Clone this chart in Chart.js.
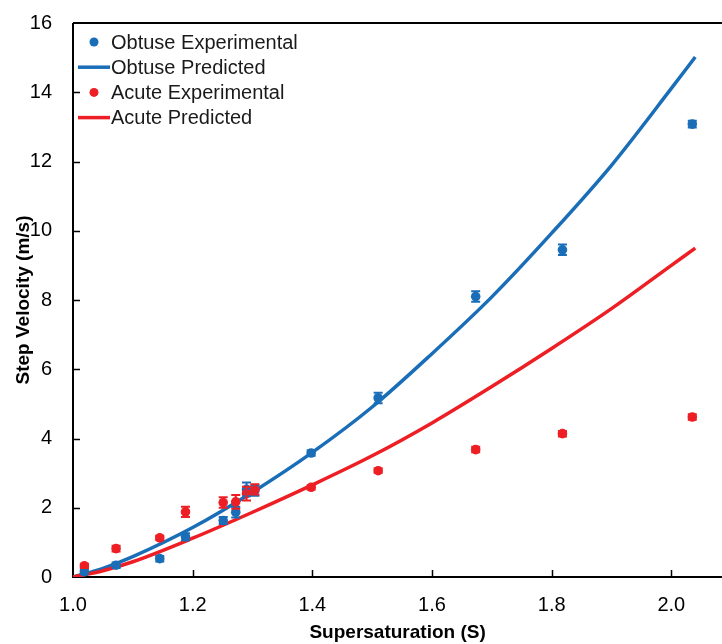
<!DOCTYPE html>
<html>
<head>
<meta charset="utf-8">
<script src="https://cdn.jsdelivr.net/npm/chart.js@4.4.1/dist/chart.umd.min.js"></script>
<style>
  html, body { margin: 0; padding: 0; background: #fff; overflow: hidden; }
  #stepChart { display: block; }
</style>
</head>
<body>
<canvas id="stepChart" width="727" height="644"></canvas>
<script>

// measured step velocities with their error bars
const obtuseS   = [1.019, 1.072, 1.145, 1.188, 1.251, 1.272, 1.290, 1.304, 1.398, 1.510, 1.673, 1.818, 2.035];
const obtuseV   = [0.15, 0.34, 0.53, 1.16, 1.63, 1.87, 2.53, 2.50, 3.58, 5.17, 8.10, 9.45, 13.08];
const obtuseErr = [0.06, 0.08, 0.08, 0.10, 0.10, 0.15, 0.20, 0.15, 0.08, 0.15, 0.15, 0.15, 0.10];

const acuteS   = [1.019, 1.072, 1.145, 1.188, 1.251, 1.272, 1.290, 1.304, 1.398, 1.510, 1.673, 1.818, 2.035];
const acuteV   = [0.32, 0.82, 1.13, 1.88, 2.15, 2.17, 2.41, 2.53, 2.59, 3.07, 3.68, 4.14, 4.62];
const acuteErr = [0.06, 0.08, 0.06, 0.15, 0.15, 0.20, 0.20, 0.15, 0.06, 0.06, 0.08, 0.08, 0.08];

// model curves
const modelS      = [1.00, 1.05, 1.10, 1.20, 1.30, 1.40, 1.50, 1.60, 1.70, 1.80, 1.90, 2.00, 2.04];
const obtuseModel = [0, 0.25, 0.59, 1.43, 2.45, 3.60, 4.91, 6.45, 8.09, 9.93, 11.89, 14.11, 15.02];
const acuteModel  = [0, 0.18, 0.44, 1.12, 1.87, 2.66, 3.50, 4.45, 5.50, 6.60, 7.75, 9.00, 9.50];

const xTicks = [1.0, 1.2, 1.4, 1.6, 1.8, 2.0];
const yTicks = [0, 2, 4, 6, 8, 10, 12, 14, 16];

const AZUL = "#1a6eb7";
const ROJO = "#ed1f24";
const FUENTE = "'Liberation Sans', Arial, sans-serif";

function puntos(xs, ys) {
    return xs.map((x, i) => ({ x: x, y: ys[i] }));
}

// ejes, borde superior y marcas hacia adentro
const marco = {
    id: "marco",
    beforeDatasetsDraw(chart) {
        const { ctx, chartArea: a, scales } = chart;
        ctx.save();
        ctx.strokeStyle = "#000";
        ctx.lineWidth = 2;
        ctx.beginPath();
        ctx.moveTo(a.left, a.top);
        ctx.lineTo(a.right + 5, a.top);
        ctx.moveTo(a.left, a.top);
        ctx.lineTo(a.left, a.bottom);
        ctx.lineTo(a.right + 5, a.bottom);
        ctx.stroke();

        ctx.lineWidth = 1.5;
        ctx.beginPath();
        xTicks.forEach(v => {
            const px = Math.round(scales.x.getPixelForValue(v)) + 0.5;
            if (v === xTicks[0]) return;
            ctx.moveTo(px, a.bottom);
            ctx.lineTo(px, a.bottom - 7);
        });
        yTicks.forEach(v => {
            const py = Math.round(scales.y.getPixelForValue(v)) + 0.5;
            if (v === yTicks[0] || v === yTicks[yTicks.length - 1]) return;
            ctx.moveTo(a.left, py);
            ctx.lineTo(a.left + 7, py);
        });
        ctx.stroke();
        ctx.restore();
    }
};

// barras de error verticales con tope
const barrasError = {
    id: "barrasError",
    afterDatasetsDraw(chart) {
        const { ctx, scales } = chart;
        chart.data.datasets.forEach((ds, i) => {
            if (!ds.errores || !chart.isDatasetVisible(i)) return;
            ctx.save();
            ctx.strokeStyle = ds.borderColor;
            ctx.lineWidth = 2;
            ds.data.forEach((p, j) => {
                const e = ds.errores[j];
                const x = scales.x.getPixelForValue(p.x);
                const y1 = scales.y.getPixelForValue(p.y - e);
                const y2 = scales.y.getPixelForValue(p.y + e);
                ctx.beginPath();
                ctx.moveTo(x, y1);
                ctx.lineTo(x, y2);
                ctx.moveTo(x - 4.5, y1);
                ctx.lineTo(x + 4.5, y1);
                ctx.moveTo(x - 4.5, y2);
                ctx.lineTo(x + 4.5, y2);
                ctx.stroke();
            });
            ctx.restore();
        });
    }
};

// leyenda dentro del area del grafico
const leyenda = {
    id: "leyenda",
    afterDraw(chart) {
        const { ctx, chartArea: a } = chart;
        ctx.save();
        ctx.font = "20px " + FUENTE;
        ctx.textBaseline = "middle";
        ctx.textAlign = "left";
        chart.data.datasets.forEach((ds, i) => {
            const y = a.top + 19 + i * 25.2;
            if (ds.showLine) {
                ctx.strokeStyle = ds.borderColor;
                ctx.lineWidth = 3.5;
                ctx.beginPath();
                ctx.moveTo(a.left + 5, y);
                ctx.lineTo(a.left + 37, y);
                ctx.stroke();
            } else {
                ctx.fillStyle = ds.backgroundColor;
                ctx.beginPath();
                ctx.arc(a.left + 21, y, 4.5, 0, Math.PI * 2);
                ctx.fill();
            }
            ctx.fillStyle = "#1a1a1a";
            ctx.fillText(ds.label, a.left + 38, y + 1);
        });
        ctx.restore();
    }
};

new Chart(document.getElementById("stepChart"), {
    type: "scatter",
    data: {
        datasets: [
            {
                label: "Obtuse Experimental",
                data: puntos(obtuseS, obtuseV),
                errores: obtuseErr,
                backgroundColor: AZUL,
                borderColor: AZUL,
                pointRadius: 4.8,
                pointBorderWidth: 0,
                order: 2
            },
            {
                label: "Obtuse Predicted",
                data: puntos(modelS, obtuseModel),
                showLine: true,
                borderColor: AZUL,
                backgroundColor: AZUL,
                borderWidth: 3.5,
                pointRadius: 0,
                cubicInterpolationMode: "monotone",
                order: 4
            },
            {
                label: "Acute Experimental",
                data: puntos(acuteS, acuteV),
                errores: acuteErr,
                backgroundColor: ROJO,
                borderColor: ROJO,
                pointRadius: 4.8,
                pointBorderWidth: 0,
                order: 1
            },
            {
                label: "Acute Predicted",
                data: puntos(modelS, acuteModel),
                showLine: true,
                borderColor: ROJO,
                backgroundColor: ROJO,
                borderWidth: 3.5,
                pointRadius: 0,
                cubicInterpolationMode: "monotone",
                order: 3
            }
        ]
    },
    options: {
        responsive: false,
        animation: false,
        layout: { padding: { top: 23, right: 0, left: 0, bottom: 0 } },
        plugins: {
            legend: { display: false },
            tooltip: { enabled: false }
        },
        scales: {
            x: {
                type: "linear",
                min: 1.0,
                max: 2.085,
                grid: { display: false, drawTicks: false },
                border: { display: false },
                ticks: {
                    includeBounds: false,
                    padding: 16,
                    color: "#000",
                    font: { family: FUENTE, size: 20 },
                    callback: v => v.toFixed(1)
                },
                afterBuildTicks: s => { s.ticks = xTicks.map(v => ({ value: v })); },
                afterFit: s => { s.height = 67; s.paddingRight = 0; },
                title: {
                    display: true,
                    text: "Supersaturation (S)",
                    color: "#000",
                    font: { family: FUENTE, size: 19, weight: "bold" },
                    padding: { top: 0, bottom: 0 }
                }
            },
            y: {
                type: "linear",
                min: 0,
                max: 16,
                grid: { display: false, drawTicks: false },
                border: { display: false },
                ticks: {
                    padding: 21,
                    color: "#000",
                    font: { family: FUENTE, size: 20 }
                },
                afterBuildTicks: s => { s.ticks = yTicks.map(v => ({ value: v })); },
                afterFit: s => { s.width = 73; s.paddingTop = 0; s.paddingBottom = 0; },
                title: {
                    display: true,
                    text: "Step Velocity (m/s)",
                    color: "#000",
                    font: { family: FUENTE, size: 19, weight: "bold" },
                    padding: { top: 12, bottom: 0 }
                }
            }
        }
    },
    plugins: [marco, barrasError, leyenda]
});

</script>
</body>
</html>
